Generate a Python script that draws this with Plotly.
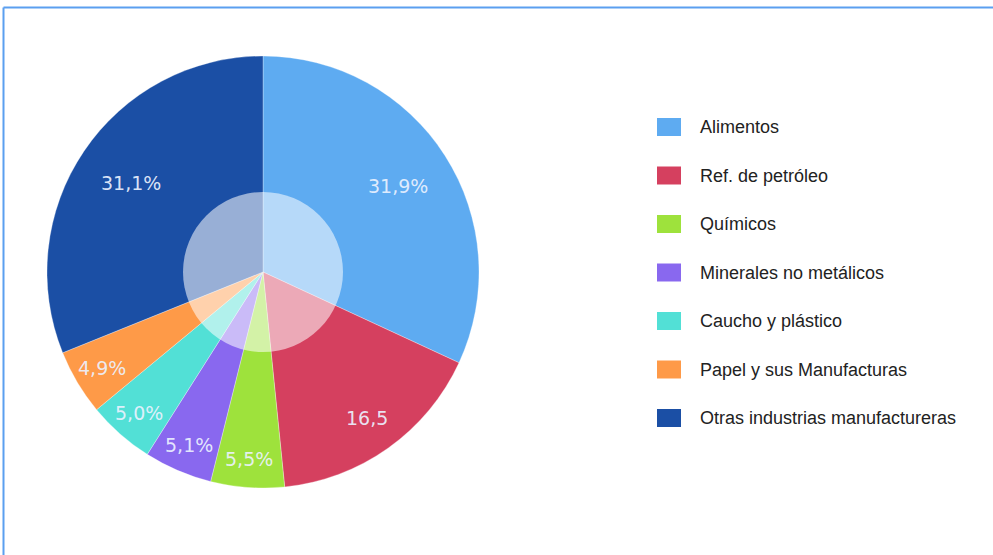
import math
import plotly.graph_objects as go

# Sector shares of manufacturing (percent)
categories = [
    "Alimentos",
    "Ref. de petróleo",
    "Químicos",
    "Minerales no metálicos",
    "Caucho y plástico",
    "Papel y sus Manufacturas",
    "Otras industrias manufactureras",
]
shares = [31.9, 16.5, 5.5, 5.1, 5.0, 4.9, 31.1]
share_labels = ["31,9%", "16,5", "5,5%", "5,1%", "5,0%", "4,9%", "31,1%"]
colors = ["#5eabf1", "#d5405f", "#9ee23c", "#8968ef", "#52e0d6", "#fe9a48", "#1b4fa5"]

W, H = 993, 555
# pie placement in pixels (left, top, diameter)
PIE_LEFT, PIE_TOP, PIE_D = 47, 56, 432
HOLE_R = 80

x0 = PIE_LEFT / W
x1 = (PIE_LEFT + PIE_D) / W
y1 = 1 - PIE_TOP / H
y0 = 1 - (PIE_TOP + PIE_D) / H
cx_px = PIE_LEFT + PIE_D / 2
cy_px = PIE_TOP + PIE_D / 2
R = PIE_D / 2

fig = go.Figure(
    go.Pie(
        labels=categories,
        values=shares,
        sort=False,
        direction="clockwise",
        rotation=0,
        marker=dict(colors=colors, line=dict(color="rgba(255,255,255,0.6)", width=0.5)),
        textinfo="none",
        hoverinfo="label+percent",
        showlegend=False,
        domain=dict(x=[x0, x1], y=[y0, y1]),
    )
)

shapes = []
annotations = []

# translucent white disc over the centre of the pie
shapes.append(dict(
    type="circle", xref="paper", yref="paper",
    x0=(cx_px - HOLE_R) / W, x1=(cx_px + HOLE_R) / W,
    y0=1 - (cy_px + HOLE_R) / H, y1=1 - (cy_px - HOLE_R) / H,
    fillcolor="rgba(255,255,255,0.55)", line=dict(width=0), layer="above",
))

# value labels placed along each slice's mid-angle
total = sum(shares)
cum = 0.0
for v, txt in zip(shares, share_labels):
    mid = (cum + v / 2) / total * 2 * math.pi
    cum += v
    frac = 0.74 if v > 20 else (0.83 if v > 10 else 0.87)
    px = cx_px + R * frac * math.sin(mid)
    py = cy_px - R * frac * math.cos(mid)
    annotations.append(dict(
        x=px / W, y=1 - py / H, xref="paper", yref="paper",
        text=txt, showarrow=False, xanchor="center", yanchor="middle",
        font=dict(family="DejaVu Sans", size=19, color="rgba(236,242,255,0.92)"),
    ))

# legend drawn as swatches with labels
LEG_X, LEG_Y0, LEG_STEP = 657, 127, 48.5
SW_W, SW_H = 24, 18
for i, (name, col) in enumerate(zip(categories, colors)):
    yc = LEG_Y0 + i * LEG_STEP
    shapes.append(dict(
        type="rect", xref="paper", yref="paper",
        x0=LEG_X / W, x1=(LEG_X + SW_W) / W,
        y0=1 - (yc + SW_H / 2) / H, y1=1 - (yc - SW_H / 2) / H,
        fillcolor=col, line=dict(width=0),
    ))
    annotations.append(dict(
        x=(LEG_X + 41) / W, y=1 - yc / H, xref="paper", yref="paper",
        text=name, showarrow=False, xanchor="left", yanchor="middle",
        font=dict(family="Liberation Sans, Arial", size=18, color="#222222"),
    ))

# frame lines along the top and left edge
frame = "#5b9ff0"
shapes.append(dict(type="line", xref="paper", yref="paper",
                   x0=3.5 / W, x1=1, y0=1 - 7.5 / H, y1=1 - 7.5 / H,
                   line=dict(color=frame, width=2)))
shapes.append(dict(type="line", xref="paper", yref="paper",
                   x0=3.5 / W, x1=3.5 / W, y0=0, y1=1 - 7.5 / H,
                   line=dict(color=frame, width=2)))

fig.update_layout(
    width=W, height=H,
    margin=dict(l=0, r=0, t=0, b=0),
    paper_bgcolor="white",
    plot_bgcolor="white",
    shapes=shapes,
    annotations=annotations,
)

fig.write_html("out.html")
